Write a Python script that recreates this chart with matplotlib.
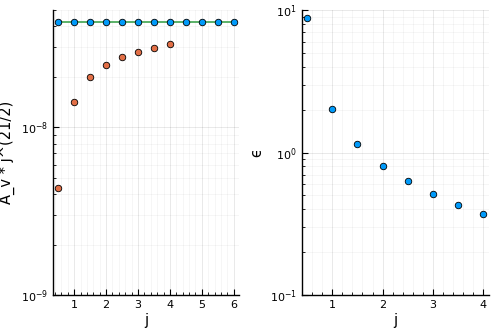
import numpy as np
import matplotlib
matplotlib.use("Agg")
import matplotlib.pyplot as plt
from matplotlib.ticker import LogLocator, AutoMinorLocator, NullFormatter

# --- Data ---
j_all = [0.5, 1.0, 1.5, 2.0, 2.5, 3.0, 3.5, 4.0, 4.5, 5.0, 5.5, 6.0]
a_ref = [4.26e-8] * len(j_all)
j_fit = [0.5, 1.0, 1.5, 2.0, 2.5, 3.0, 3.5, 4.0]
a_v = [4.35e-9, 1.42e-8, 2.0e-8, 2.36e-8, 2.62e-8, 2.82e-8, 2.99e-8, 3.13e-8]
eps = [8.83, 2.01, 1.14, 0.81, 0.63, 0.51, 0.43, 0.37]

blue = "#009AFA"
orange = "#E26F46"
green = "#3EA44E"

plt.rcParams["font.family"] = "DejaVu Sans"
fig = plt.figure(figsize=(4.98, 3.32), dpi=100)
ax1 = fig.add_axes([0.1064, 0.1114, 0.3735, 0.858])
ax2 = fig.add_axes([0.6058, 0.1114, 0.3755, 0.858])


def style(ax, xlim, ylim):
    ax.set_yscale("log")
    ax.set_xlim(*xlim)
    ax.set_ylim(*ylim)
    for s in ["top", "right"]:
        ax.spines[s].set_visible(False)
    for s in ["left", "bottom"]:
        ax.spines[s].set_linewidth(1.0)
    ax.xaxis.set_minor_locator(AutoMinorLocator(5))
    ax.yaxis.set_major_locator(LogLocator(base=10, numticks=10))
    ax.yaxis.set_minor_locator(LogLocator(base=10, subs=np.arange(2, 10), numticks=10))
    ax.yaxis.set_minor_formatter(NullFormatter())
    ax.tick_params(which="both", direction="in", labelsize=8, color="black")
    ax.tick_params(which="major", length=4)
    ax.tick_params(which="minor", length=2)
    ax.grid(True, which="major", color="black", alpha=0.1, linewidth=0.6)
    ax.grid(True, which="minor", color="black", alpha=0.05, linewidth=0.5)
    ax.set_xlabel("j", fontsize=10.5, labelpad=2)


# --- Left panel ---
ax1.plot(j_all, a_ref, color=green, linewidth=1.2, zorder=2)
ax1.scatter(j_fit, a_v, s=22, color=orange, edgecolors="black", linewidths=0.6, zorder=3)
ax1.scatter(j_all, a_ref, s=22, color=blue, edgecolors="black", linewidths=0.6, zorder=4)
style(ax1, (0.335, 6.165), (1e-9, 5e-8))
ax1.set_xticks([1, 2, 3, 4, 5, 6])
ax1.set_ylabel("A_v * j^(21/2)", fontsize=10.5)

# --- Right panel ---
ax2.scatter(j_fit, eps, s=22, color=blue, edgecolors="black", linewidths=0.6, zorder=3)
style(ax2, (0.395, 4.105), (0.1, 10))
ax2.set_xticks([1, 2, 3, 4])
ax2.set_ylabel("ϵ", fontsize=10.5)

fig.savefig("out.png", dpi=100)
